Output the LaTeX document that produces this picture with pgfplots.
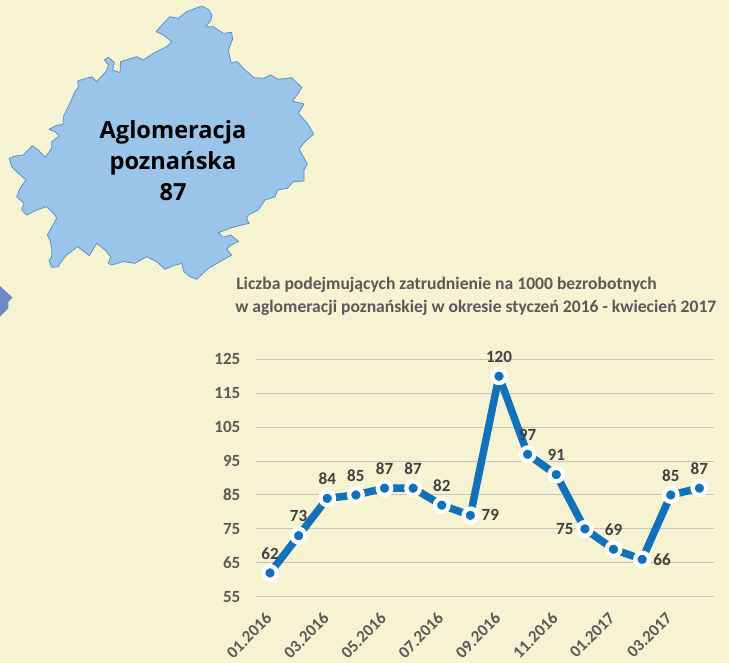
\documentclass[border=0pt]{standalone}
\usepackage{fontspec}
\setmainfont{Carlito}
\newfontfamily\mapfont{Open Sans}
\usepackage{pgfplots}
\pgfplotsset{compat=1.18}
\definecolor{bg}{HTML}{F6F3D2}
\definecolor{mapfill}{HTML}{9AC4EA}
\definecolor{mapedge}{HTML}{5B93C4}
\definecolor{lineblue}{HTML}{1172BB}
\definecolor{txt}{HTML}{404040}
\definecolor{tick}{HTML}{595959}
\definecolor{gridc}{HTML}{C4C4BC}
\definecolor{hex}{HTML}{6F88C6}
\begin{document}
\begin{tikzpicture}[x=0.75pt,y=-0.75pt]
\fill[bg] (0,0) rectangle (729,663);
\clip (0,0) rectangle (729,663);
\coordinate (A) at (255.7,596.7);
\begin{scope}[x=0.25pt,y=-0.25pt]
\filldraw[fill=hex,draw=none] (0,858)--(38,893)--(25,905)--(25,925)--(0,950)--cycle;
\filldraw[fill=mapfill,draw=mapedge,line width=0.6pt,line join=round]
(605,18)--(625,28)--(636,45)--(632,62)--(617,80)--(640,80)--(670,100)--(695,97)--(698,118)--(685,150)--(693,188)--(712,185)--(730,205)--(762,233)--(790,235)--(812,225)--(835,238)--(875,233)--(905,262)--(895,280)--(877,303)--(912,312)--(895,340)--(922,370)--(941,402)--(915,425)--(897,447)--(922,492)--(912,510)--(912,543)--(880,545)--(862,565)--(833,570)--(825,590)--(795,600)--(775,630)--(745,645)--(740,657)--(748,670)--(725,675)--(695,683)--(655,698)--(670,712)--(692,705)--(716,724)--(690,737)--(680,748)--(695,765)--(660,785)--(625,805)--(590,838)--(570,830)--(552,815)--(545,790)--(520,797)--(495,808)--(470,785)--(440,770)--(405,790)--(370,785)--(335,795)--(325,790)--(332,770)--(315,750)--(290,730)--(268,767)--(233,740)--(200,765)--(180,790)--(175,800)--(155,802)--(147,782)--(155,770)--(155,745)--(150,720)--(142,705)--(170,655)--(165,645)--(140,620)--(110,630)--(80,645)--(65,630)--(72,610)--(50,590)--(60,565)--(78,540)--(55,520)--(35,500)--(28,475)--(45,468)--(70,465)--(97,437)--(115,450)--(135,472)--(155,445)--(155,425)--(178,408)--(165,395)--(147,388)--(165,378)--(190,372)--(190,350)--(205,320)--(225,275)--(235,262)--(233,243)--(275,230)--(290,245)--(320,212)--(325,195)--(313,180)--(325,172)--(343,187)--(338,210)--(360,218)--(362,185)--(410,170)--(430,180)--(460,160)--(500,140)--(515,125)--(490,105)--(468,95)--(495,65)--(510,50)--(535,55)--(560,35)--cycle;
\end{scope}
\node[align=center,font=\mapfont\bfseries\fontsize{17.7}{23.2}\selectfont,text=black] at (173,160.5) {Aglomeracja\\poznańska\\87};
\node[anchor=base west,inner sep=0pt,font=\bfseries\fontsize{13.2}{15}\selectfont,text=tick] at (236,290) {Liczba podejmujących zatrudnienie na 1000 bezrobotnych};
\node[anchor=base west,inner sep=0pt,font=\bfseries\fontsize{13.2}{15}\selectfont,text=tick] at (235,312) {w aglomeracji poznańskiej w okresie styczeń 2016 - kwiecień 2017};
\begin{axis}[
 at={(A)},anchor=south west,
 scale only axis,width=343.5pt,height=178.05pt,
 xmin=-0.5,xmax=15.5,ymin=55,ymax=125,
 axis line style={draw=none},
 tick style={draw=none},
 ymajorgrids,
 grid style={gridc,line width=0.75pt},
 ytick={55,65,...,125},
 xtick={0,2,...,14},
 xticklabels={01.2016,03.2016,05.2016,07.2016,09.2016,11.2016,01.2017,03.2017},
 x tick label style={rotate=45,anchor=north east,font=\bfseries\fontsize{12.6}{14}\selectfont,text=tick,inner sep=1pt,xshift=-9.7pt,yshift=-3.8pt},
 y tick label style={font=\bfseries\fontsize{12.8}{14}\selectfont,text=tick,xshift=-8pt},
 /pgf/number format/assume math mode=true,
 clip=false,
 nodes near coords,
 point meta=explicit symbolic,
 every node near coord/.style={font=\bfseries\fontsize{12.8}{14}\selectfont,text=txt,inner sep=2pt},
]
\addplot[lineblue,line width=5.6pt,line join=round,
 mark=*,mark size=5.1pt,mark options={fill=lineblue,draw=white,line width=3.2pt},
 visualization depends on={value \thisrow{ax} \as \lax},
 visualization depends on={value \thisrow{ay} \as \lay},
 every node near coord/.append style={xshift=\lax pt,yshift=\lay pt,anchor=center},
] table[x=x,y=y,meta=l] {
x y l ax ay
0 62 62 0 14.5
1 73 73 0 14.5
2 84 84 0 14.5
3 85 85 0 14.5
4 87 87 0 14.5
5 87 87 0 14.5
6 82 82 0 14.5
7 79 79 15 0
8 120 120 0 14.5
9 97 97 0 14.5
10 91 91 0 14.5
11 75 75 -15 0
12 69 69 0 14.5
13 66 66 15 0
14 85 85 0 14.5
15 87 87 0 14.5
};
\end{axis}
\end{tikzpicture}
\end{document}
